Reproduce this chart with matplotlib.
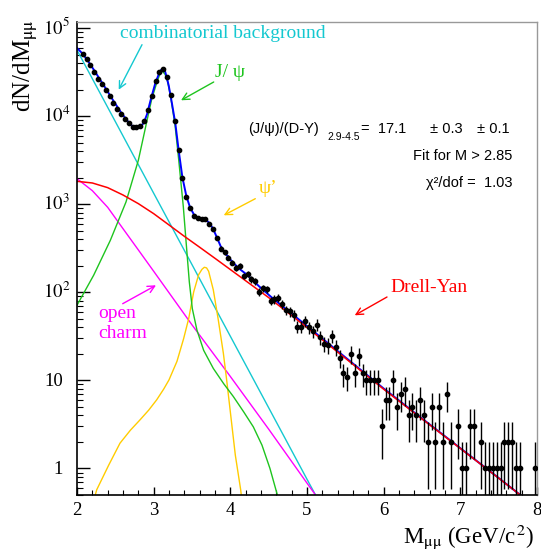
import numpy as np
import matplotlib
matplotlib.use("Agg")
import matplotlib.pyplot as plt
from matplotlib import transforms
from matplotlib.ticker import MultipleLocator, LogLocator, NullFormatter

# dimuon mass spectrum, counts per 0.05 GeV bin (first bin centre 2.075 GeV)
counts = [51030, 44370, 37930, 32150, 26770, 23080, 19730, 16870, 14300, 12120,
          10540, 9245, 8400, 7630, 7500, 7770, 8930, 11700, 17160, 25190,
          32150, 34470, 27720, 17470, 8930, 4110, 1995, 1214, 919, 739,
          707, 677, 683, 605, 521, 412, 315, 286, 249, 218,
          190, 200, 154, 162, 141, 134, 101, 111, 108, 80,
          84, 87, 73, 63, 61, 55, 41, 41, 47, 40,
          36, 43, 31, 26, 25, 32, 24, 18, 12, 11,
          20, 12, 19, 12, 10, 10, 10, 10, 3, 6,
          6, 10, 5, 7, 8, 4, 5, 4, 6, 4,
          2, 5, 2, 5, 2, 7, 2, 0, 3, 1,
          1, 3, 3, 0, 2, 1, 1, 1, 1, 1,
          2, 2, 2, 1, 1, 0, 0, 0, 1]
mass = np.round(2.075 + 0.05 * np.arange(len(counts)), 3)

# fit components
cb_x = [2.0, 2.5, 3.0, 3.5, 4.0, 4.5, 5.0, 5.2]
cb_y = [56600, 8720, 1340, 207, 31.8, 4.9, 0.755, 0.36]

dy_x = [2.0, 2.2, 2.4, 2.6, 2.8, 3.0, 3.2, 3.4, 3.6, 3.8, 4.0, 4.5, 5.0, 5.5,
        6.0, 6.5, 7.0, 7.5, 8.0]
dy_y = [1829, 1751, 1550, 1279, 1020, 785, 584, 434, 326, 244, 182, 87.4, 39.9,
        17.9, 7.96, 3.66, 1.69, 0.777, 0.355]

oc_x = [2.0, 2.2, 2.4, 2.6, 2.8, 3.0, 3.5, 4.0, 4.5, 5.0, 5.1]
oc_y = [1960, 1432, 927, 530, 304, 174, 42.8, 11.1, 2.80, 0.682, 0.516]

jpsi_x = [2.0, 2.217, 2.435, 2.639, 2.8, 2.909, 2.974, 3.043, 3.08, 3.11, 3.145,
          3.174, 3.222, 3.278, 3.326, 3.387, 3.430, 3.465, 3.504, 3.565, 3.652,
          3.778, 3.913, 4.039, 4.174, 4.3, 4.413, 4.517, 4.613, 4.652]
jpsi_y = [71.5, 156.6, 391, 1065, 3166, 8624, 15600, 24540, 29990, 32710, 30390,
          26770, 16580, 8042, 3250, 935, 314, 131.6, 65.5, 37.2, 22.0,
          13.7, 9.2, 6.57, 4.40, 2.97, 1.84, 1.0, 0.502, 0.384]

psip_x = [2.239, 2.257, 2.413, 2.561, 2.696, 2.822, 2.935, 3.039, 3.130, 3.2,
          3.304, 3.391, 3.457, 3.522, 3.587, 3.63, 3.661, 3.69, 3.717, 3.778,
          3.843, 3.909, 3.952, 4.0, 4.065, 4.135, 4.148]
psip_y = [0.502, 0.573, 1.09, 1.94, 2.72, 3.57, 4.60, 6.02, 7.96, 10.15,
          16.5, 29.9, 50.5, 101.3, 159.4, 183, 193.1, 190, 173.9, 106.8,
          48.7, 20.4, 10.15, 4.40, 1.42, 0.573, 0.456]

tot_x = [2.0, 2.074, 2.174, 2.274, 2.374, 2.474, 2.574, 2.652, 2.717, 2.774,
         2.826, 2.870, 2.913, 2.965, 3.022, 3.074, 3.095, 3.117, 3.135, 3.152,
         3.196, 3.239, 3.283, 3.326, 3.374, 3.426, 3.474, 3.526, 3.574, 3.626,
         3.674, 3.726, 3.774, 3.826, 3.874, 3.926, 3.978, 4.026, 4.126, 4.226,
         4.374, 4.522, 4.696, 5.0, 5.5, 6.0, 6.5, 7.0, 7.5, 8.0]
tot_y = [59690, 51450, 38950, 28460, 20800, 15060, 11100, 9009, 7834, 7434,
         7631, 8401, 10540, 15870, 23900, 31310, 33580, 34470, 33580, 31860,
         22480, 13930, 8256, 4111, 2048, 1246, 926.7, 764.6, 707.2, 683,
         677, 615, 530.4, 419.3, 334.3, 283.3, 250.7, 222, 183.2, 156.6,
         117.5, 90.5, 67.9, 41.5, 18.3, 8.1, 3.7, 1.7, 0.78, 0.355]

ytick_vals = [1, 10, 100, 1000, 1e4, 1e5]
ytick_text = ['1', '10', '$10^{2}$', '$10^{3}$', '$10^{4}$', '$10^{5}$']

c_cyan = '#14c8d0'
c_green = '#1ec41e'
c_yellow = '#ffcc00'
c_mag = '#ff00ff'
c_red = '#ff0000'
c_blue = '#0000ff'

plt.rcParams['font.family'] = ['Liberation Serif', 'DejaVu Serif']
plt.rcParams['mathtext.fontset'] = 'stix'

W, H = 541, 552
fig = plt.figure(figsize=(W / 100, H / 100), dpi=100)
ax = fig.add_axes([77 / W, 1 - 495 / H, 460 / W, 473 / H])
ax.set_yscale('log')

ax.plot(cb_x, cb_y, color=c_cyan, lw=1.0)
ax.plot(oc_x, oc_y, color=c_mag, lw=1.0)
ax.plot(psip_x, psip_y, color=c_yellow, lw=1.0)
ax.plot(jpsi_x, jpsi_y, color=c_green, lw=1.0)
ax.plot(tot_x, tot_y, color=c_blue, lw=1.4)
ax.plot(dy_x, dy_y, color=c_red, lw=1.1)

n = np.array(counts, dtype=float)
m = mass[n > 0]
n = n[n > 0]
err = np.sqrt(n)
lo = np.where(n - err > 0, err, n * 0.999)
ax.errorbar(m, n, yerr=[lo, err], fmt='o', ms=3.1, color='black',
            ecolor='black', elinewidth=1.0, capsize=0, zorder=5)

ax.set_xlim(2, 8)
ax.set_ylim(0.5, 1.18e5)
ax.xaxis.set_major_locator(MultipleLocator(1))
ax.xaxis.set_minor_locator(MultipleLocator(0.2))
ax.yaxis.set_major_locator(LogLocator(base=10))
ax.yaxis.set_minor_locator(LogLocator(base=10, subs=np.arange(2, 10)))
ax.yaxis.set_major_formatter(NullFormatter())
ax.yaxis.set_minor_formatter(NullFormatter())
ax.tick_params(which='both', direction='in', top=False, right=False, color='black')
ax.tick_params(axis='y', which='major', length=9.4, width=1.0)
ax.tick_params(axis='y', which='minor', length=4.5, width=0.8)
ax.tick_params(axis='x', which='major', length=5.8, width=1.0, pad=5, labelsize=13.5)
ax.tick_params(axis='x', which='minor', length=3.3, width=0.8)
for s in ['top', 'right']:
    ax.spines[s].set_color('#999999')
    ax.spines[s].set_linewidth(1.0)
for s in ['left', 'bottom']:
    ax.spines[s].set_linewidth(1.2)

# y tick labels, digits centred on the tick
trans = transforms.offset_copy(ax.get_yaxis_transform(), fig=fig, y=-6, units='dots')
for v, t in zip(ytick_vals, ytick_text):
    if t.startswith('$'):
        ax.text(-34 / 460, v, t, transform=trans, ha='left', va='baseline', fontsize=13.5)
    else:
        ax.text(-14 / 460, v, t, transform=trans, ha='right', va='baseline', fontsize=13.5)


def fp(x, y):
    return x / W, 1 - y / H


fig.text(*fp(26, 66), r'dN/dM$_{\mathrm{\mu\mu}}$', rotation=90, ha='center', va='center', fontsize=18)
fig.text(*fp(535, 543), r'M$_{\mathrm{\mu\mu}}$ (GeV/c$^{\,2}$)', ha='right', va='baseline', fontsize=16.5)

# component labels and arrows
fig.text(*fp(120, 38), 'combinatorial background', color=c_cyan, fontsize=14, va='baseline')
fig.text(*fp(215, 77), 'J/ ψ', color=c_green, fontsize=14, va='baseline')
fig.text(*fp(259, 193), 'ψ’', color=c_yellow, fontsize=14, va='baseline')
fig.text(*fp(390, 292), 'Drell-Yan', color=c_red, fontsize=14, va='baseline')
fig.text(*fp(98, 318), 'open', color=c_mag, fontsize=14, va='baseline')
fig.text(*fp(98, 338), 'charm', color=c_mag, fontsize=14, va='baseline')

arrows = [((142, 44.7), (118.7, 89.7), c_cyan),
          ((213.7, 82), (181, 100.3), c_green),
          ((255.3, 198.7), (223.7, 215.3), c_yellow),
          ((387, 297), (354.7, 315.3), c_red),
          ((122.7, 303.7), (156, 285.3), c_mag)]
for (x0, y0), (x1, y1), c in arrows:
    fig.add_artist(matplotlib.patches.FancyArrowPatch(
        (x0, H - y0), (x1, H - y1), transform=None,
        arrowstyle='->,head_length=5,head_width=2.5', color=c, lw=1.0,
        shrinkA=0, shrinkB=0))

# fit result text
sans = ['Liberation Sans', 'DejaVu Sans']
fs = 10.5
fig.text(*fp(248, 133), '(J/ψ)/(D-Y)', family=sans, fontsize=fs, va='baseline')
fig.text(*fp(327, 140), '2.9-4.5', family=sans, fontsize=7.5, va='baseline')
fig.text(*fp(361, 133), '=  17.1', family=sans, fontsize=fs, va='baseline')
fig.text(*fp(430, 133), '± 0.3', family=sans, fontsize=fs, va='baseline')
fig.text(*fp(477, 133), '± 0.1', family=sans, fontsize=fs, va='baseline')
fig.text(*fp(512, 160), 'Fit for M > 2.85', family=sans, fontsize=fs, va='baseline', ha='right')
fig.text(*fp(512, 187), 'χ²/dof =  1.03', family=sans, fontsize=fs, va='baseline', ha='right')

fig.savefig('out.png', dpi=100)
